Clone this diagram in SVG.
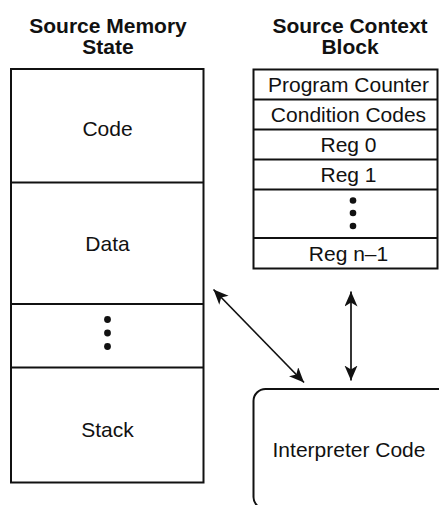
<svg xmlns="http://www.w3.org/2000/svg" width="439" height="505" viewBox="0 0 439 505">
<defs>
<style>
.box{fill:#fff;stroke:#111;stroke-width:2}
.div{stroke:#111;stroke-width:2}
.t{font-family:"Liberation Sans",Arial,sans-serif;font-size:21px;fill:#111;text-anchor:middle}
.h{font-family:"Liberation Sans",Arial,sans-serif;font-size:21px;font-weight:bold;fill:#111;text-anchor:middle}
.dot{fill:#111}
.conn{stroke:#111;stroke-width:1.7;fill:none;marker-start:url(#ah);marker-end:url(#ah)}
</style>
<marker id="ah" markerUnits="userSpaceOnUse" markerWidth="16" markerHeight="14" refX="15" refY="6.5" orient="auto-start-reverse" viewBox="0 0 16 14">
<path d="M0,0 L15,6.5 L0,13 L4,6.5 z" fill="#111"/>
</marker>
</defs>

<g id="title-memory">
<text class="h" x="108" y="33">Source Memory</text>
<text class="h" x="108" y="54">State</text>
</g>
<g id="title-context">
<text class="h" x="350" y="33">Source Context</text>
<text class="h" x="350" y="54">Block</text>
</g>

<g id="memory-state">
<rect class="box" x="11" y="69" width="192.5" height="413.5"/>
<line class="div" x1="11" y1="182.5" x2="203.5" y2="182.5"/>
<line class="div" x1="11" y1="304" x2="203.5" y2="304"/>
<line class="div" x1="11" y1="367.5" x2="203.5" y2="367.5"/>
<text class="t" x="107.5" y="136">Code</text>
<text class="t" x="107.5" y="251">Data</text>
<circle class="dot" cx="107.5" cy="319.5" r="3.4"/>
<circle class="dot" cx="107.5" cy="333" r="3.4"/>
<circle class="dot" cx="107.5" cy="346.5" r="3.4"/>
<text class="t" x="107.5" y="437">Stack</text>
</g>

<g id="context-block">
<rect class="box" x="253.5" y="69.5" width="184" height="199"/>
<line class="div" x1="253.5" y1="99.5" x2="437.5" y2="99.5"/>
<line class="div" x1="253.5" y1="129.5" x2="437.5" y2="129.5"/>
<line class="div" x1="253.5" y1="159.5" x2="437.5" y2="159.5"/>
<line class="div" x1="253.5" y1="189.5" x2="437.5" y2="189.5"/>
<line class="div" x1="253.5" y1="238" x2="437.5" y2="238"/>
<text class="t" x="348.5" y="91.5">Program Counter</text>
<text class="t" x="348.5" y="121.5">Condition Codes</text>
<text class="t" x="348.5" y="151.5">Reg 0</text>
<text class="t" x="348.5" y="181.5">Reg 1</text>
<circle class="dot" cx="353" cy="200.5" r="3.3"/>
<circle class="dot" cx="353" cy="213" r="3.3"/>
<circle class="dot" cx="353" cy="226" r="3.3"/>
<text class="t" x="348.5" y="260.5">Reg n–1</text>
</g>

<g id="interpreter">
<rect class="box" x="253.5" y="389" width="200" height="120" rx="12" ry="12"/>
<text class="t" x="349" y="457">Interpreter Code</text>
</g>

<g id="connectors">
<line class="conn" x1="213.5" y1="289.5" x2="304" y2="382.5"/>
<line class="conn" x1="351" y1="291.5" x2="351" y2="380.5"/>
</g>
</svg>
